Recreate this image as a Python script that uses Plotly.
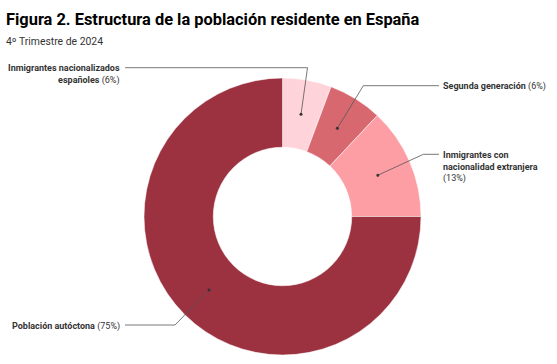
import math
import plotly.graph_objects as go

# ---- data ----
categories = [
    "Inmigrantes nacionalizados españoles",
    "Segunda generación",
    "Inmigrantes con nacionalidad extranjera",
    "Población autóctona",
]
label_lines = [
    ["Inmigrantes nacionalizados", "españoles"],
    ["Segunda generación"],
    ["Inmigrantes con", "nacionalidad extranjera"],
    ["Población autóctona"],
]
values = [5.7, 6.3, 13.0, 75.0]
colors = ["#fed4da", "#d8686f", "#fd9ea5", "#9c3140"]

title_text = "Figura 2. Estructura de la población residente en España"
subtitle_text = "4º Trimestre de 2024"

# ---- layout geometry (pixels) ----
W, H = 557, 364
CX, CY, R = 282.5, 216.5, 138.5
HOLE = 0.5

def px(x):
    return x / W

def py(y):
    return 1 - y / H

fig = go.Figure()
fig.add_trace(go.Pie(
    labels=categories,
    values=values,
    marker=dict(colors=colors, line=dict(color="white", width=0.5)),
    hole=HOLE,
    sort=False,
    direction="clockwise",
    rotation=0,
    textinfo="none",
    showlegend=False,
    domain=dict(x=[px(CX - R), px(CX + R)], y=[py(CY + R), py(CY - R)]),
))

# leader-line layout: elbow point, end of horizontal line, text side
elbows = [(307.5, 67.7), (363.3, 85.7), (423.3, 154.3), (175.0, 325.0)]
line_ends = [125, 439, 439, 125]
sides = ["left", "right", "right", "left"]

B = '<b>{}</b>'

total = sum(values)
cum = 0.0
shapes = []
annotations = []
for i, v in enumerate(values):
    mid = (cum + v / 2) / total * 2 * math.pi
    cum += v
    rr = R * (1 + HOLE) / 2
    dx_ = CX + rr * math.sin(mid)
    dy_ = CY - rr * math.cos(mid)
    ex, ey = elbows[i]
    lx = line_ends[i]
    path = f"M {px(dx_)} {py(dy_)} L {px(ex)} {py(ey)} L {px(lx)} {py(ey)}"
    shapes.append(dict(type="path", xref="paper", yref="paper", path=path,
                       line=dict(color="#555555", width=0.8)))
    shapes.append(dict(type="circle", xref="paper", yref="paper",
                       x0=px(dx_ - 1.5), x1=px(dx_ + 1.5),
                       y0=py(dy_ + 1.5), y1=py(dy_ - 1.5),
                       fillcolor="#333333", line=dict(width=0)))
    pct = f"({round(v / total * 100)}%)"
    lines = label_lines[i]
    if len(lines) == 1:
        txt = f"{B.format(lines[0])} {pct}"
    elif i == 0:
        txt = f"{B.format(lines[0])}<br>{B.format(lines[1])} {pct}"
    else:
        txt = f"{B.format(lines[0])}<br>{B.format(lines[1])}<br>{pct}"
    if sides[i] == "left":
        annotations.append(dict(x=px(lx - 3), y=py(ey - 6.5), xref="paper", yref="paper",
                                text=txt, showarrow=False, xanchor="right", yanchor="top",
                                align="right", font=dict(size=9, color="#333333")))
    else:
        annotations.append(dict(x=px(lx + 2), y=py(ey - 6.5), xref="paper", yref="paper",
                                text=txt, showarrow=False, xanchor="left", yanchor="top",
                                align="left", font=dict(size=9, color="#333333")))

annotations.append(dict(x=px(4), y=py(19), xref="paper", yref="paper",
                        text=f"<b>{title_text}</b>", showarrow=False,
                        xanchor="left", yanchor="middle",
                        font=dict(size=16.4, color="#000000")))
annotations.append(dict(x=px(4), y=py(41), xref="paper", yref="paper",
                        text=subtitle_text, showarrow=False,
                        xanchor="left", yanchor="middle",
                        font=dict(size=10.4, color="#333333")))

fig.update_layout(
    width=W, height=H,
    margin=dict(l=0, r=0, t=0, b=0),
    paper_bgcolor="white", plot_bgcolor="white",
    font=dict(family="Roboto, sans-serif"),
    shapes=shapes,
    annotations=annotations,
)

fig.write_html("out.html", config={"displayModeBar": False},
               post_script="document.body.style.margin='0';")
